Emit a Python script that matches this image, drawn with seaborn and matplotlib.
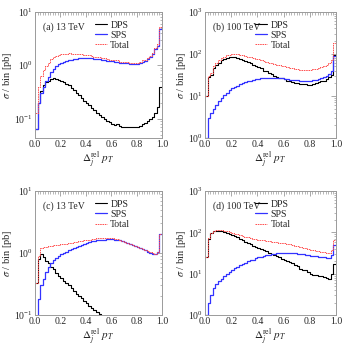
import numpy as np
import pandas as pd
import matplotlib
matplotlib.use("Agg")
import matplotlib.pyplot as plt
from matplotlib.ticker import MultipleLocator, LogLocator, NullFormatter
import seaborn as sns

sns.set_style("white")
plt.rcParams['font.family'] = ['Liberation Serif', 'DejaVu Serif']
plt.rcParams['mathtext.fontset'] = 'stix'

# ---------------- data (50 bins of width 0.02 on [0,1]) ----------------
bin_lo, bin_hi, n_bins = 0.0, 1.0, 50

a_dps = [0.065, 0.2, 0.33, 0.42, 0.48, 0.52, 0.55, 0.57, 0.56, 0.54,
         0.51, 0.48, 0.45, 0.42, 0.38, 0.35, 0.31, 0.28, 0.25, 0.22,
         0.2, 0.18, 0.16, 0.145, 0.13, 0.12, 0.11, 0.1, 0.092, 0.086,
         0.081, 0.078, 0.08, 0.075, 0.072, 0.07, 0.07, 0.07, 0.072, 0.07,
         0.072, 0.075, 0.08, 0.085, 0.09, 0.1, 0.11, 0.13, 0.17, 0.4]
a_sps = [0.065, 0.2, 0.3, 0.4, 0.5, 0.6, 0.75, 0.85, 0.95, 1.05,
         1.1, 1.15, 1.2, 1.25, 1.25, 1.3, 1.3, 1.35, 1.35, 1.35,
         1.35, 1.35, 1.35, 1.3, 1.3, 1.3, 1.25, 1.25, 1.2, 1.2,
         1.2, 1.15, 1.15, 1.1, 1.1, 1.1, 1.1, 1.05, 1.05, 1.05,
         1.05, 1.1, 1.15, 1.2, 1.3, 1.4, 1.6, 2.0, 2.3, 4.8]
a_tot = [0.13, 0.4, 0.63, 0.82, 0.98, 1.12, 1.3, 1.42, 1.51, 1.59,
         1.61, 1.63, 1.65, 1.67, 1.63, 1.65, 1.61, 1.63, 1.6, 1.57,
         1.55, 1.53, 1.51, 1.45, 1.43, 1.42, 1.36, 1.35, 1.29, 1.28,
         1.28, 1.23, 1.23, 1.17, 1.17, 1.17, 1.17, 1.12, 1.12, 1.12,
         1.12, 1.17, 1.23, 1.28, 1.39, 1.5, 1.71, 2.13, 2.47, 5.2]

b_dps = [10, 28, 32, 45, 55, 62, 70, 75, 80, 82,
         83, 82, 80, 77, 72, 68, 64, 60, 55, 52,
         48, 45, 40, 38, 35, 33, 30, 28, 27, 26,
         25, 23, 22, 21, 20, 20, 19, 19, 19, 18,
         18, 19, 20, 21, 22, 23, 25, 28, 32, 95]
b_sps = [1.0, 3, 4, 5, 6, 7.5, 9, 10.5, 12, 13.5,
         15, 16, 17.5, 19, 20, 21, 22, 23, 24, 25,
         25.5, 26, 26.5, 27, 27, 27, 27, 26.5, 26, 26,
         25.5, 25, 24.5, 24, 24, 23.5, 23, 23, 23, 23,
         23, 23.5, 24, 25, 26, 28, 30, 33, 38, 90]
b_tot = [10, 30, 35, 50, 61, 70, 80, 86, 92, 96,
         98, 98, 97.5, 96, 92, 89, 86, 83, 79, 77,
         73.5, 71, 66.5, 65, 62, 60, 57, 54.5, 53, 52,
         50.5, 48, 46.5, 45, 44, 43.5, 42, 42, 42, 41,
         41, 42.5, 44, 46, 48, 51, 55, 61, 70, 185]

c_dps = [0.33, 0.8, 0.95, 0.85, 0.75, 0.68, 0.6, 0.55, 0.48, 0.43,
         0.4, 0.36, 0.33, 0.3, 0.27, 0.24, 0.22, 0.2, 0.185, 0.17,
         0.155, 0.14, 0.13, 0.12, 0.11, 0.105, 0.095, 0.088, 0.08, 0.072,
         0.065, 0.058, 0.052, 0.047, 0.042, 0.038, 0.034, 0.03, 0.027, 0.024,
         0.022, 0.02, 0.018, 0.016, 0.014, 0.013, 0.012, 0.011, 0.01, 0.01]
c_sps = [0.05, 0.18, 0.3, 0.38, 0.5, 0.6, 0.68, 0.76, 0.84, 0.9,
         0.95, 1.0, 1.05, 1.1, 1.15, 1.2, 1.25, 1.3, 1.35, 1.4,
         1.45, 1.5, 1.55, 1.55, 1.6, 1.6, 1.65, 1.65, 1.7, 1.7,
         1.7, 1.65, 1.65, 1.6, 1.55, 1.5, 1.45, 1.4, 1.35, 1.3,
         1.25, 1.2, 1.15, 1.1, 1.05, 1.0, 0.98, 0.97, 1.02, 2.0]
c_tot = [0.33, 0.9, 1.2, 1.25, 1.25, 1.28, 1.3, 1.33, 1.35, 1.35,
         1.38, 1.4, 1.42, 1.45, 1.47, 1.5, 1.52, 1.55, 1.57, 1.6,
         1.62, 1.65, 1.68, 1.7, 1.72, 1.72, 1.75, 1.75, 1.77, 1.76,
         1.75, 1.7, 1.68, 1.62, 1.57, 1.52, 1.47, 1.42, 1.37, 1.32,
         1.27, 1.22, 1.17, 1.12, 1.07, 1.02, 0.99, 0.98, 1.03, 2.0]

d_dps = [25, 70, 95, 105, 110, 108, 105, 100, 95, 90,
         85, 80, 75, 70, 65, 60, 55, 52, 48, 45,
         42, 40, 37, 35, 32, 30, 28, 27, 25, 23,
         22, 20, 19, 18, 16, 15, 13, 12.5, 12, 11,
         10, 9.5, 9.3, 9, 8.7, 8.5, 8, 7.5, 10, 17]
d_sps = [1.0, 2, 3, 4.5, 5.5, 6.5, 7.5, 9, 10, 11,
         12, 13.5, 14.5, 16, 17, 18.5, 20, 21, 22, 23.5,
         25, 26, 27, 28, 29, 30, 30, 31, 31.5, 32,
         32, 32, 32, 31.5, 31, 30.5, 30, 29.5, 29, 28,
         27.5, 27, 26.5, 26, 25.5, 25, 24.5, 24, 28, 50]
d_tot = [25, 72, 98, 110, 115, 115, 112, 109, 105, 101,
         97, 93.5, 89.5, 86, 82, 78.5, 75, 73, 70, 68.5,
         67, 66, 64, 63, 61, 60, 58, 58, 56.5, 55,
         54, 52, 51, 49.5, 47, 45.5, 43, 42, 41, 39,
         37.5, 36.5, 35.8, 35, 34.2, 33.5, 32.5, 31.5, 38, 67]

panels = [
    ("(a) 13 TeV", a_dps, a_sps, a_tot, (0.044, 10)),
    ("(b) 100 TeV", b_dps, b_sps, b_tot, (1, 1000)),
    ("(c) 13 TeV", c_dps, c_sps, c_tot, (0.1, 10)),
    ("(d) 100 TeV", d_dps, d_sps, d_tot, (1, 1000)),
]
series_names = ["DPS", "SPS", "Total"]
xticks = [0.0, 0.2, 0.4, 0.6, 0.8, 1.0]

# ---------------- figure ----------------
W = H = 345
fig = plt.figure(figsize=(W / 100, H / 100), dpi=100)
# axes boxes in pixel coords: left, top, right, bottom
boxes = [(35, 11.7, 162, 138), (205, 11.7, 336, 138),
         (35, 191, 162, 315), (205, 191, 336, 315)]

styles = {
    "DPS": dict(color="black", lw=0.8, ls="-"),
    "SPS": dict(color="#3333ff", lw=0.9, ls="-"),
    "Total": dict(color="#ff5050", lw=0.7, ls=(0, (1.6, 0.8))),
}
gray = "#9a9a9a"
edges = np.linspace(bin_lo, bin_hi, n_bins + 1)

for (label, dps, sps, tot, ylim), (l, t, r, b) in zip(panels, boxes):
    ax = fig.add_axes([l / W, 1 - b / H, (r - l) / W, (b - t) / H])
    rows = []
    for name, vals in zip(series_names, [dps, sps, tot]):
        v = list(vals) + [vals[-1]]
        rows.append(pd.DataFrame({"x": edges, "y": v, "s": name}))
    df = pd.concat(rows, ignore_index=True)
    for name in series_names:
        sub = df[df.s == name]
        sns.lineplot(data=sub, x="x", y="y", ax=ax, estimator=None,
                     drawstyle="steps-post", label=name, **styles[name])
    ax.set_yscale("log")
    ax.set_ylim(*ylim)
    ax.set_xlim(0, 1)
    ax.set_xticks(xticks)
    ax.set_xticklabels([f"{v:.1f}" for v in xticks])
    ax.xaxis.set_minor_locator(MultipleLocator(0.02))
    ax.yaxis.set_major_locator(LogLocator(base=10, numticks=10))
    ax.yaxis.set_minor_locator(LogLocator(base=10, subs=np.arange(2, 10), numticks=10))
    ax.yaxis.set_minor_formatter(NullFormatter())
    ax.tick_params(which="both", direction="in", top=True, right=True,
                   color=gray, labelsize=7, pad=1.5)
    ax.tick_params(which="major", length=3.5, width=0.6)
    ax.tick_params(which="minor", length=1.8, width=0.5)
    for sp in ax.spines.values():
        sp.set_color(gray)
        sp.set_linewidth(0.7)
    ax.set_xlabel(r"$\Delta_j^{\mathrm{rel}}\ p_T$", fontsize=8, labelpad=0)
    ax.set_ylabel(r"$\sigma$ / bin [pb]", fontsize=7.5, labelpad=0)
    ax.text(0.06, 0.875, label, transform=ax.transAxes, fontsize=7,
            va="center", ha="left")
    leg_x = 0.47 if "13" in label else 0.38
    ax.legend(loc="upper left", bbox_to_anchor=(leg_x, 0.93), frameon=False,
              fontsize=7, handlelength=1.3, handletextpad=0.3,
              labelspacing=0.12, borderpad=0, borderaxespad=0)

fig.savefig("out.png", dpi=100)
